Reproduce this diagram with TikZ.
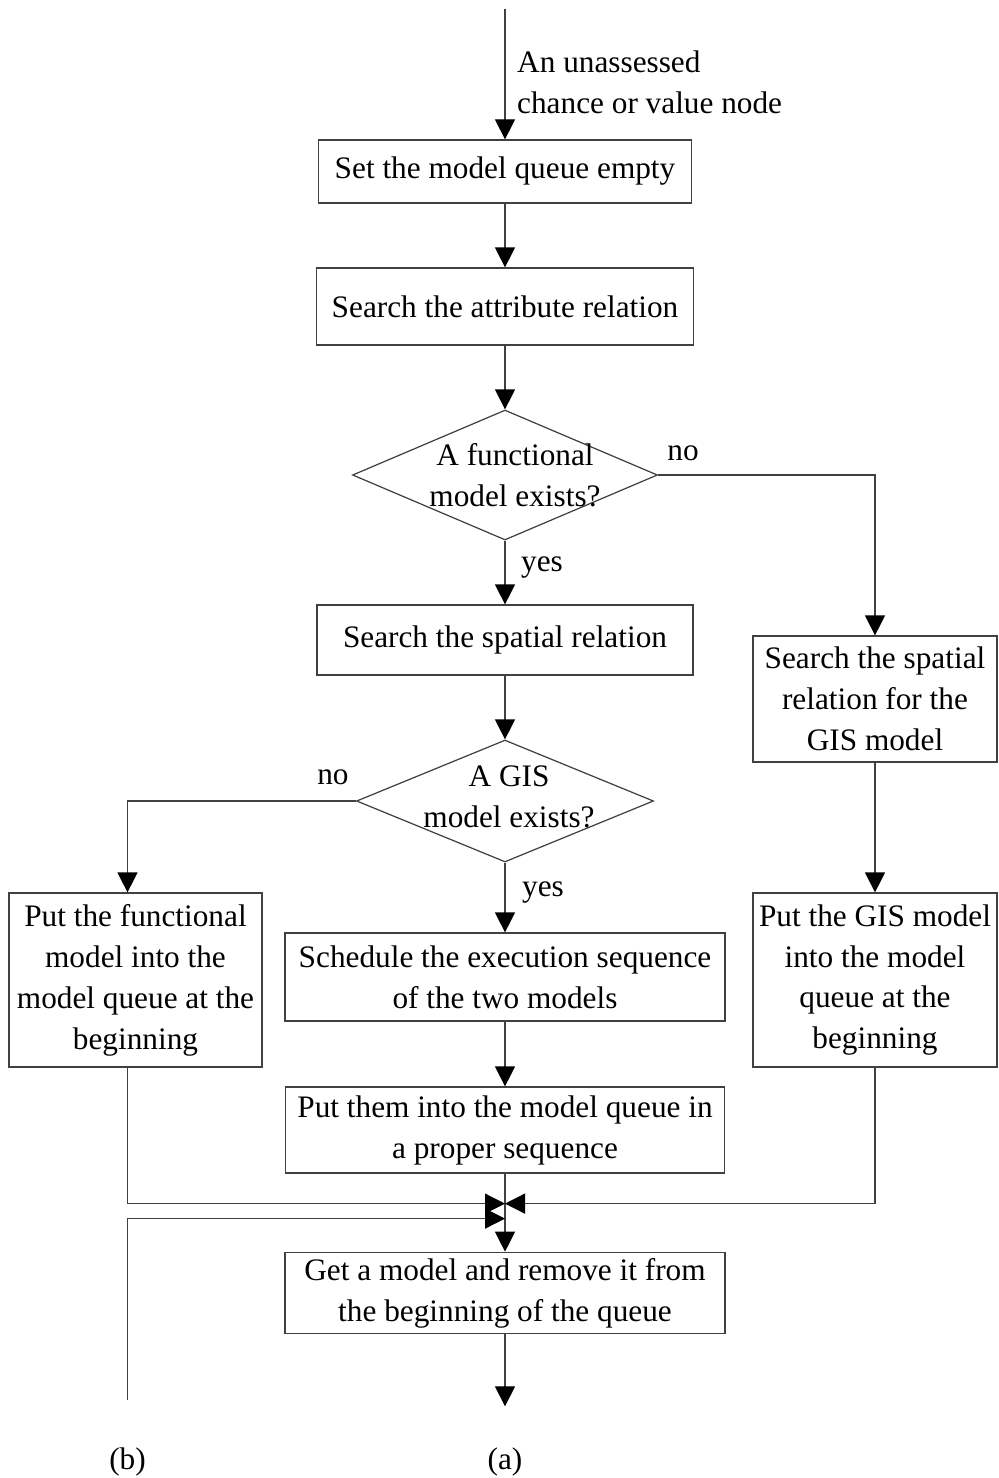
\documentclass[tikz,border=0pt]{standalone}
\usepackage{fontspec}
\setmainfont{Liberation Serif}
\usetikzlibrary{shapes.geometric, arrows.meta, calc, positioning}

\begin{document}
\begin{tikzpicture}[font=\fontsize{17.8}{23.3}\selectfont, node distance=3.3cm]
    \tikzstyle{process} = [rectangle, align=center, inner xsep=2pt, draw=black!75, line width=0.7pt]
    \tikzstyle{decision} = [diamond, inner sep=0pt, draw=black!75, line width=0.7pt]
    \tikzstyle{arrow} = [draw=black!75, line width=0.7pt, -{Triangle[length=0.4cm, width=0.4cm, black]}]

    \useasboundingbox (0,0) rectangle (19.96,-29.56);

    \node (empty) [process, minimum width=7.46cm, minimum height=1.26cm] at (10.1,-3.43) {Set the model queue empty};
    \node (attrib) [process, below of=empty, yshift=0.6cm, minimum width=7.54cm, minimum height=1.54cm] {Search the attribute relation};
    \node (funcq) [decision, below of=attrib, yshift=-0.07cm, minimum width=6.1cm, minimum height=2.6cm, label={[align=center, xshift=0.2cm]center:{A functional\\model exists?}}] {};
    \node (spatial) [process, below of=funcq, minimum width=7.52cm, minimum height=1.4cm] {Search the spatial relation};
    \node (gisrel) [process, right of=spatial, xshift=4.1cm, yshift=-1.18cm, minimum width=4.88cm, minimum height=2.52cm] {Search the spatial\\relation for the\\GIS model};
    \node (gisq) [decision, below of=spatial, yshift=0.08cm, minimum width=5.94cm, minimum height=2.44cm, label={[align=center, xshift=0.08cm, yshift=0.08cm]center:{A GIS\\model exists?}}] {};
    \node (schedule) [process, below of=gisq, yshift=-0.22cm, minimum width=8.8cm, minimum height=1.76cm] {Schedule the execution sequence\\of the two models};
    \node (putfunc) [process, left of=schedule, xshift=-4.09cm, yshift=-0.06cm, minimum width=5.06cm, minimum height=3.48cm] {Put the functional\\model into the\\model queue at the\\beginning};
    \node (putgis) [process, right of=schedule, xshift=4.1cm, yshift=-0.06cm, minimum width=4.88cm, minimum height=3.48cm] {Put the GIS model\\into the model\\queue at the\\beginning};
    \node (putthem) [process, below of=schedule, yshift=0.24cm, minimum width=8.78cm, minimum height=1.72cm] {Put them into the model queue in\\a proper sequence};
    \node (getmodel) [process, below of=putthem, yshift=0.04cm, minimum width=8.8cm, minimum height=1.6cm] {Get a model and remove it from\\the beginning of the queue};

    % entry, merge points and loose ends
    \coordinate (entry) at ([yshift=2.6cm]empty.north);
    \node (entrytext) [anchor=west, align=left] at ($(empty.north)+(0.12,1.15)$) {An unassessed\\chance or value node};
    \coordinate (merge) at ([yshift=-0.6cm]putthem.south);
    \coordinate (mergeb) at ([yshift=-0.9cm]putthem.south);
    \coordinate (fromb) at (2.55,-28.0);
    \coordinate (toa) at ([yshift=-1.44cm]getmodel.south);

    \node (no1) at ($(funcq.east)+(0.5,0.44)$) {no};
    \node (yes1) at ($(funcq.south)+(0.74,-0.54)$) {yes};
    \node (no2) at ($(gisq.west)+(-0.46,0.48)$) {no};
    \node (yes2) at ($(gisq.south)+(0.76,-0.6)$) {yes};

    \node (lbla) [below of=getmodel, yshift=-0.08cm] {(a)};
    \node (lblb) at (fromb |- lbla) {(b)};

    \draw [arrow] (entry) -- (empty);
    \draw [arrow] (empty) -- (attrib);
    \draw [arrow] (attrib) -- (funcq);
    \draw [arrow] (funcq) -- (spatial);
    \draw [arrow] (funcq.east) -| (gisrel);
    \draw [arrow] (spatial) -- (gisq);
    \draw [arrow] (gisq.west) -| ([xshift=-0.16cm]putfunc.north);
    \draw [arrow] (gisq) -- (schedule);
    \draw [arrow] (gisrel) -- (putgis);
    \draw [arrow] (schedule) -- (putthem);
    \draw [arrow] (putthem) -- (getmodel);
    \draw [arrow] ([xshift=-0.16cm]putfunc.south) |- (merge);
    \draw [arrow] (putgis.south) |- (merge);
    \draw [arrow] (fromb) |- (mergeb);
    \draw [arrow] (getmodel) -- (toa);
  \end{tikzpicture}
\end{document}
